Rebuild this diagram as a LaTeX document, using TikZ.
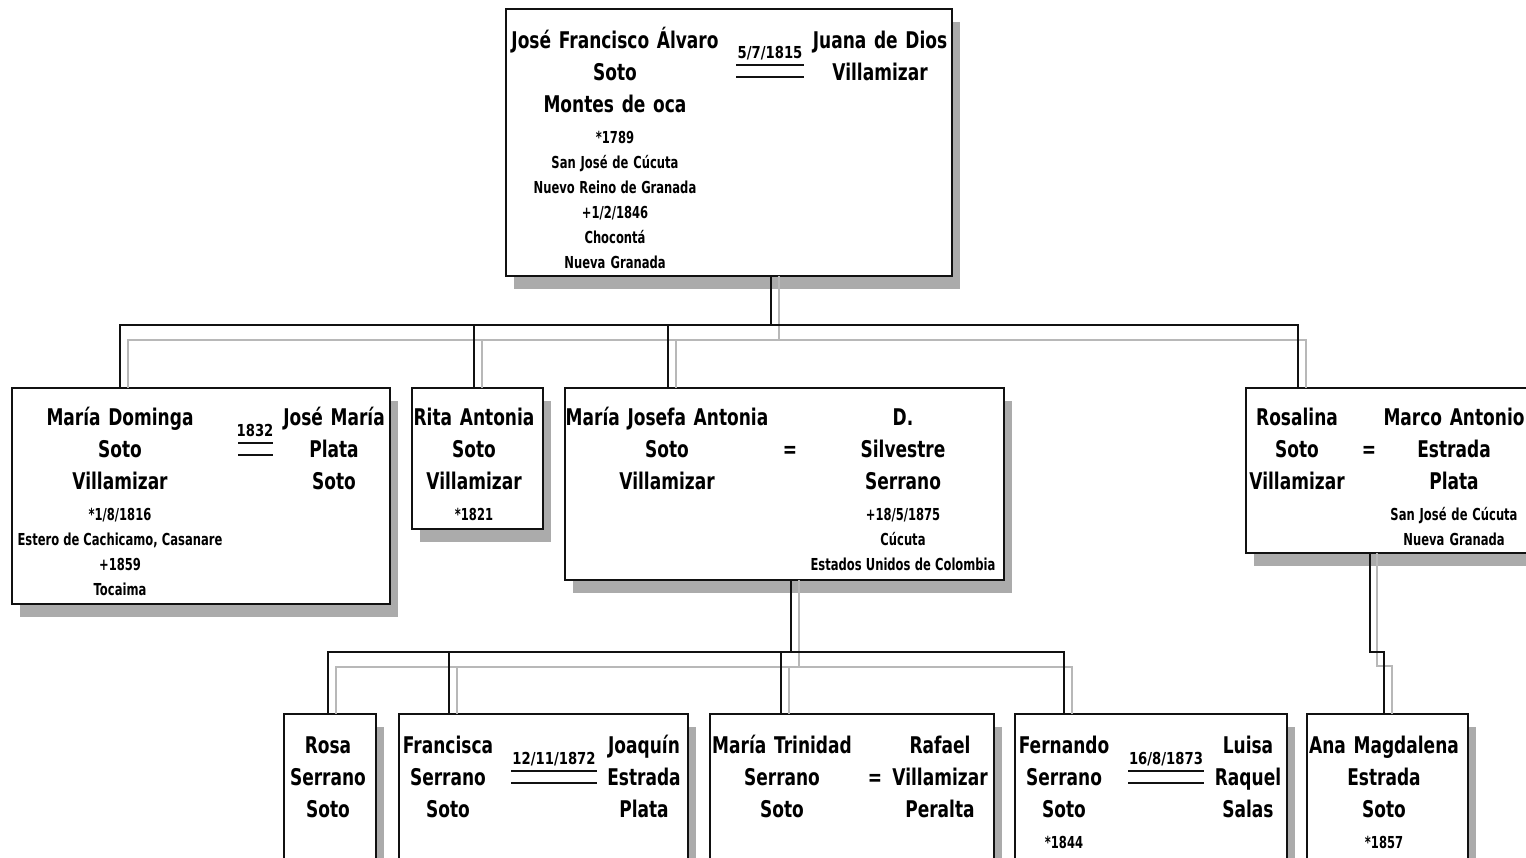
\documentclass[tikz,border=0pt]{standalone}
\usepackage{fontspec}
\usetikzlibrary{shadows,calc}
\newfontfamily\namefam{DejaVu Sans}[FakeStretch=0.74]
\newfontfamily\infofam{DejaVu Sans}[FakeStretch=0.70]
\newfontfamily\datefam{DejaVu Sans}[FakeStretch=0.80]
\newcommand\namesz{\namefam\bfseries\fontsize{23}{32.3}\selectfont\spaceskip=5.2pt plus 2pt minus 1pt\relax}
\newcommand\infosz{\infofam\bfseries\fontsize{16.5}{25}\selectfont\spaceskip=3.2pt plus 1pt minus 0.5pt\relax}
\newcommand\datesz{\datefam\bfseries\fontsize{16.5}{25}\selectfont}
\definecolor{shadowgray}{HTML}{ABABAB}
\definecolor{linegray}{HTML}{B8B8B8}
\definecolor{ink}{HTML}{111111}

\tikzset{
  card/.style={draw=ink, line width=1.8pt, fill=white, anchor=north west,
    inner sep=0pt, outer sep=0pt,
    general shadow={fill=shadowgray, shadow xshift=8pt, shadow yshift=-13pt}},
  col/.style={anchor=base, text width=280pt, align=center, inner sep=0pt, font=\namesz},
  wedding/.style={anchor=base, inner sep=0pt, font=\datesz},
  eqsign/.style={anchor=base, inner sep=0pt, font=\namesz},
  kin/.style={draw=ink, line width=1.7pt},
  kinshade/.style={draw=linegray, line width=1.4pt},
  wedline/.style={draw=ink, line width=1.7pt},
}

\begin{document}
\begin{tikzpicture}[x=1pt,y=-1pt]
\useasboundingbox (0,0) rectangle (1526,857);

% family cards
\node[card, minimum width=446pt, minimum height=267pt] (top) at (506,9) {};
\node[card, minimum width=378pt, minimum height=216pt] (md) at (12,388) {};
\node[card, minimum width=131pt, minimum height=141pt] (ra) at (412,388) {};
\node[card, minimum width=439pt, minimum height=192pt] (mj) at (565,388) {};
\node[card, minimum width=300pt, minimum height=165pt] (ro) at (1246,388) {};
\node[card, minimum width=92pt,  minimum height=160pt] (rs) at (284,714) {};
\node[card, minimum width=289pt, minimum height=160pt] (fr) at (399,714) {};
\node[card, minimum width=284pt, minimum height=160pt] (mt) at (710,714) {};
\node[card, minimum width=272pt, minimum height=160pt] (fe) at (1015,714) {};
\node[card, minimum width=161pt, minimum height=160pt] (an) at (1307,714) {};

% descent lines: light shade first, then dark line
\draw[kinshade] ($(top.south)+(50,0)$) -- ++(0,64) coordinate (g1);
\draw[kinshade] (g1) -| ($(md.north)+(-73,0)$);
\draw[kinshade] (g1) -| ($(ra.north)+(4.5,0)$);
\draw[kinshade] (g1) -| ($(mj.north)+(-108.5,0)$);
\draw[kinshade] (g1) -| ($(ro.north)+(-90,0)$);
\draw[kin] ($(top.south)+(42,0)$) -- ++(0,49) coordinate (b1);
\draw[kin] (b1) -| ($(md.north)+(-81,0)$);
\draw[kin] (b1) -| ($(ra.north)+(-3.5,0)$);
\draw[kin] (b1) -| ($(mj.north)+(-116.5,0)$);
\draw[kin] (b1) -| ($(ro.north)+(-98,0)$);

\draw[kinshade] ($(mj.south)+(14.5,0)$) -- ++(0,87) coordinate (g2);
\draw[kinshade] (g2) -| ($(rs.north)+(6,0)$);
\draw[kinshade] (g2) -| ($(fr.north)+(-86.5,0)$);
\draw[kinshade] (g2) -| ($(mt.north)+(-63,0)$);
\draw[kinshade] (g2) -| ($(fe.north)+(-79,0)$);
\draw[kin] ($(mj.south)+(6.5,0)$) -- ++(0,72) coordinate (b2);
\draw[kin] (b2) -| ($(rs.north)+(-2,0)$);
\draw[kin] (b2) -| ($(fr.north)+(-94.5,0)$);
\draw[kin] (b2) -| ($(mt.north)+(-71,0)$);
\draw[kin] (b2) -| ($(fe.north)+(-87,0)$);

\draw[kinshade] ($(ro.south)+(-19,0)$) -- ++(0,113) -| ($(an.north)+(4.5,0)$);
\draw[kin] ($(ro.south)+(-26,0)$) -- ++(0,99) -| ($(an.north)+(-3.5,0)$);

% generation 1
\node[col] (topA) at (615,48) {José Francisco Álvaro\\Soto\\Montes de oca\par\vspace{5.5pt}
  \infosz *1789\\San José de Cúcuta\\Nuevo Reino de Granada\\+1/2/1846\\Chocontá\\Nueva Granada\par};
\node[col] (topB) at (880,48) {Juana de Dios\\Villamizar};
\node[wedding] (w1) at (770,58) {5/7/1815};
\draw[wedline] (736,65) -- (804,65) (736,77) -- (804,77);

% generation 2
\node[col] (mdA) at (120,425) {María Dominga\\Soto\\Villamizar\par\vspace{6pt}
  \infosz *1/8/1816\\Estero de Cachicamo, Casanare\\+1859\\Tocaima\par};
\node[col] (mdB) at (334,425) {José María\\Plata\\Soto};
\node[wedding] (w2) at (255,436) {1832};
\draw[wedline] (238,443) -- (273,443) (238,455) -- (273,455);

\node[col] (raA) at (474,425) {Rita Antonia\\Soto\\Villamizar\par\vspace{6pt}\infosz *1821\par};

\node[col] (mjA) at (667,425) {María Josefa Antonia\\Soto\\Villamizar};
\node[eqsign] (e1) at (790,457) {=};
\node[col] (mjB) at (903,425) {D.\\Silvestre\\Serrano\par\vspace{6pt}
  \infosz +18/5/1875\\Cúcuta\\Estados Unidos de Colombia\par};

\node[col] (roA) at (1297,425) {Rosalina\\Soto\\Villamizar};
\node[eqsign] (e2) at (1369,457) {=};
\node[col] (roB) at (1454,425) {Marco Antonio\\Estrada\\Plata\par\vspace{6pt}
  \infosz San José de Cúcuta\\Nueva Granada\par};

% generation 3
\node[col] (rsA) at (328,753) {Rosa\\Serrano\\Soto};

\node[col] (frA) at (448,753) {Francisca\\Serrano\\Soto};
\node[wedding] (w3) at (554,764) {12/11/1872};
\draw[wedline] (511,771) -- (597,771) (511,783) -- (597,783);
\node[col] (frB) at (644,753) {Joaquín\\Estrada\\Plata};

\node[col] (mtA) at (782,753) {María Trinidad\\Serrano\\Soto};
\node[eqsign] (e3) at (875,785) {=};
\node[col] (mtB) at (940,753) {Rafael\\Villamizar\\Peralta};

\node[col] (feA) at (1064,753) {Fernando\\Serrano\\Soto\par\vspace{6pt}\infosz *1844\par};
\node[wedding] (w4) at (1166,764) {16/8/1873};
\draw[wedline] (1128,771) -- (1204,771) (1128,783) -- (1204,783);
\node[col] (feB) at (1248,753) {Luisa\\Raquel\\Salas};

\node[col] (anA) at (1384,753) {Ana Magdalena\\Estrada\\Soto\par\vspace{6pt}\infosz *1857\par};
\end{tikzpicture}
\end{document}
